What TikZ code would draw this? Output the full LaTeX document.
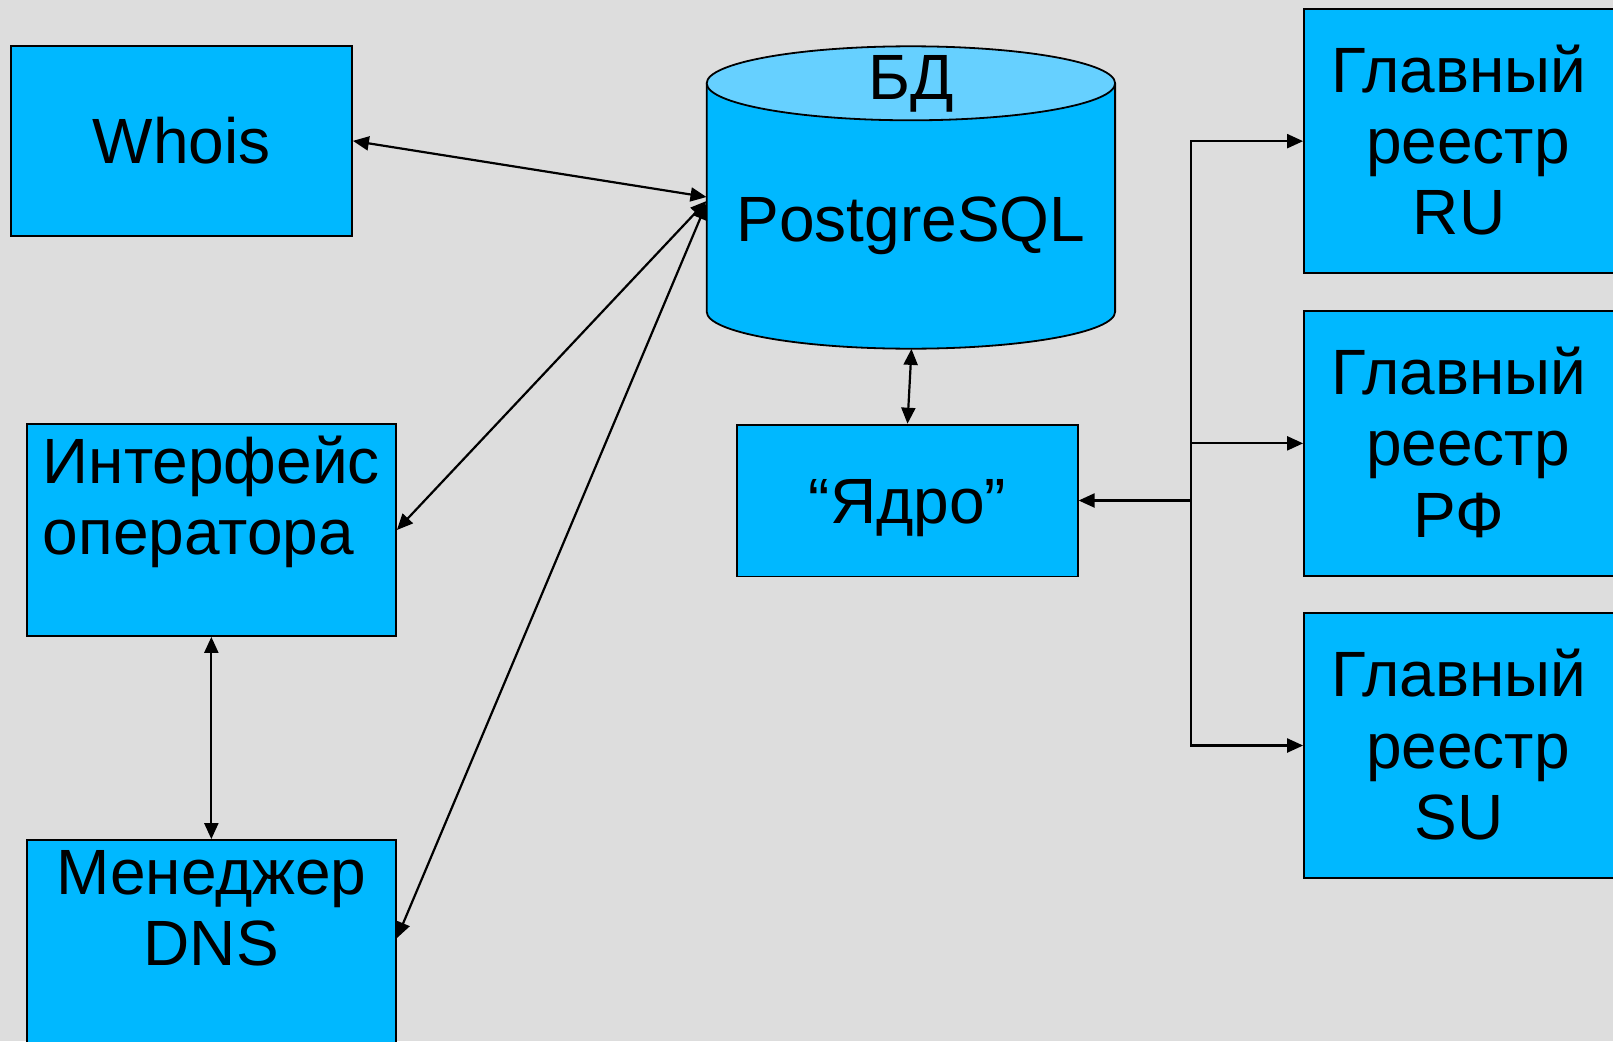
\documentclass[tikz,border=0pt]{standalone}
\usepackage{fontspec}
\setmainfont{Liberation Sans}
\usetikzlibrary{arrows.meta}
\definecolor{bggray}{RGB}{221,221,221}
\definecolor{boxblue}{RGB}{0,184,255}
\definecolor{topblue}{RGB}{102,208,255}
\newcommand{\bigtext}{\fontsize{64}{71.2}\selectfont}
\begin{document}
\begin{tikzpicture}[x=1pt,y=1pt,
  box/.style={draw=black, line width=1.8pt, fill=boxblue, inner sep=0pt,
    font=\bigtext},
  arr/.style={line width=2.2pt, -{Triangle[length=16pt,width=14pt]}},
  darr/.style={line width=2.2pt, {Triangle[length=16pt,width=14pt]}-{Triangle[length=16pt,width=14pt]}},
  lbl/.style={font=\bigtext, anchor=base, inner sep=0pt}]
\fill[bggray] (0,0) rectangle (1613,-1041);
\useasboundingbox (0,0) rectangle (1613,-1041);

% database cylinder
\node[inner sep=0pt, minimum width=408.4pt, minimum height=302.4pt] (db) at (910.9,-197.5) {};
\path[fill=boxblue, draw=black, line width=1.8pt]
  (706.7,-83.3) -- (706.7,-311.7) arc[start angle=180, end angle=360, x radius=204.2, y radius=37] -- (1115.1,-83.3);
\draw[fill=topblue, line width=1.8pt] (910.9,-83.3) ellipse [x radius=204.2, y radius=37];
\node[lbl] (dbtitle) at (910.9,-99) {БД};
\node[lbl] (dbname) at (910.9,-241) {PostgreSQL};

% boxes
\node[box, minimum width=341pt, minimum height=189.7pt, text height=45pt, text depth=0pt] (whois) at (181.5,-140.85) {Whois};
\node[box, align=left, minimum width=369.3pt, minimum height=212pt, text height=116.2pt, text depth=66.4pt] (iface) at (211.35,-530) {Интерфейс\\оператора};
\node[box, align=center, minimum width=369.3pt, minimum height=260pt, text height=116.2pt, text depth=124.4pt] (dns) at (211.35,-970) {Менеджер\\DNS};
\node[box, minimum width=340.4pt, minimum height=151.8pt, text height=45pt, text depth=0pt] (core) at (907.5,-500.5) {“Ядро”};
\node[box, align=center, minimum width=310pt, minimum height=264.3pt, text height=187.4pt, text depth=0pt] (ru) at (1459,-141.15) {Главный\\\hspace*{0.278em}реестр\\RU};
\node[box, align=center, minimum width=310pt, minimum height=265.3pt, text height=187.4pt, text depth=0pt] (rf) at (1459,-443.35) {Главный\\\hspace*{0.278em}реестр\\РФ};
\node[box, align=center, minimum width=310pt, minimum height=264.4pt, text height=187.4pt, text depth=0pt] (su) at (1459,-745.5) {Главный\\\hspace*{0.278em}реестр\\SU};

% connectors
\coordinate (jn) at (1190.7,-500.5);
\draw[arr] (jn) -- (core.east);
\draw[arr] (jn) |- (ru.west);
\draw[arr] (jn) |- (rf.west);
\draw[arr] (jn) |- (su.west);
\draw[darr] ([xshift=0.6pt]db.south) -- (core.north);
\draw[darr] (whois.east) -- ([yshift=0.5pt]db.west);
\draw[darr] (iface.east) -- ([yshift=-3.5pt]db.west);
\draw[darr] ([yshift=-99pt]dns.north east) -- ([yshift=-6pt]db.west);
\draw[darr] (iface.south) -- (dns.north);
\end{tikzpicture}
\end{document}
